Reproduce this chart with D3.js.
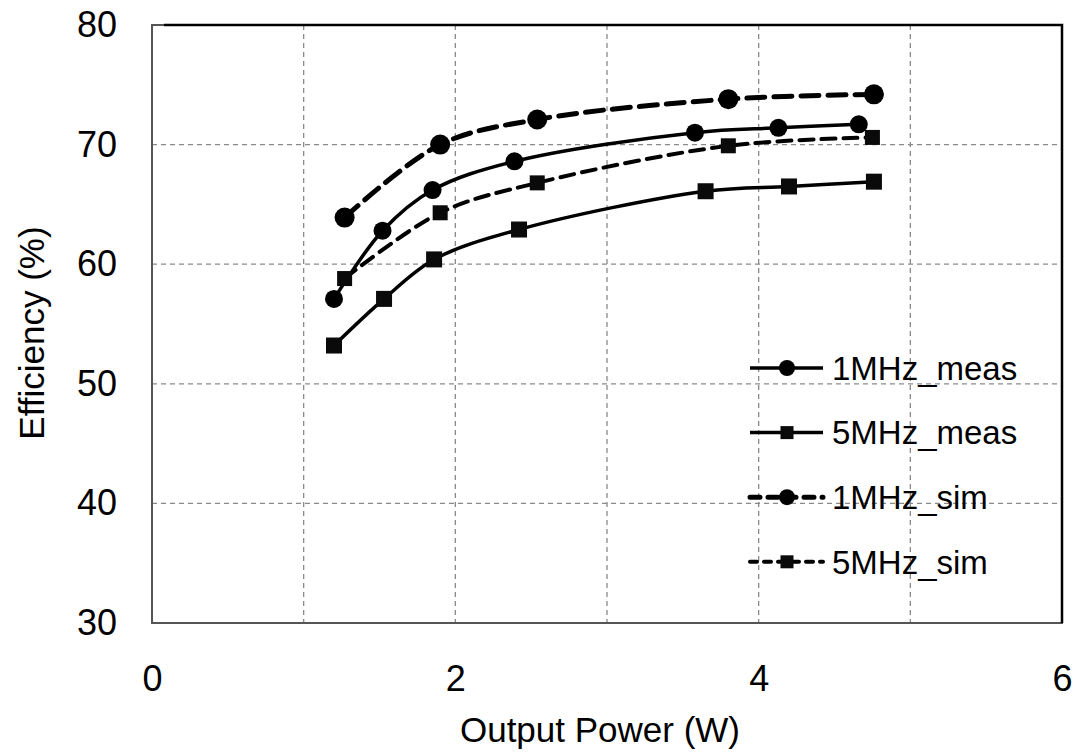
<!DOCTYPE html>
<html>
<head>
<meta charset="utf-8">
<script src="https://cdn.jsdelivr.net/npm/d3@7"></script>
<style>
  body { margin: 0; background: #fff; }
  text { font-family: "Liberation Sans", Arial, sans-serif; fill: #000; }
</style>
</head>
<body>
<div id="chart"></div>
<script>
// series
var meas1MHzX = [1.20, 1.52, 1.85, 2.39, 3.58, 4.13, 4.66];
var meas1MHzY = [57.1, 62.8, 66.2, 68.6, 71.0, 71.4, 71.7];
var meas5MHzX = [1.20, 1.53, 1.86, 2.42, 3.65, 4.20, 4.76];
var meas5MHzY = [53.2, 57.1, 60.4, 62.9, 66.1, 66.5, 66.9];
var sim1MHzX = [1.27, 1.90, 2.54, 3.80, 4.76];
var sim1MHzY = [63.9, 70.0, 72.1, 73.8, 74.2];
var sim5MHzX = [1.27, 1.90, 2.54, 3.80, 4.75];
var sim5MHzY = [58.8, 64.3, 66.8, 69.9, 70.6];

var seriesNames = ["1MHz_meas", "5MHz_meas", "1MHz_sim", "5MHz_sim"];
var xTicks = [0, 2, 4, 6];
var xGrid = [1, 2, 3, 4, 5];
var yTicks = [30, 40, 50, 60, 70, 80];

var width = 1081, height = 755;
var margin = { top: 25, right: 19, bottom: 132, left: 152 };
var w = width - margin.left - margin.right,
    h = height - margin.top - margin.bottom;

var series = [
    { name: seriesNames[0], x: meas1MHzX, y: meas1MHzY, marker: "circle", r: 9, sw: 3.5, dash: null },
    { name: seriesNames[1], x: meas5MHzX, y: meas5MHzY, marker: "square", r: 8, sw: 3.5, dash: null },
    { name: seriesNames[2], x: sim1MHzX, y: sim1MHzY, marker: "circle", r: 10, sw: 5, dash: "18,9" },
    { name: seriesNames[3], x: sim5MHzX, y: sim5MHzY, marker: "square", r: 7.5, sw: 4, dash: "14,8" }
];

var svg = d3.select("#chart").append("svg")
    .attr("width", width)
    .attr("height", height);

var g = svg.append("g")
    .attr("transform", "translate(" + margin.left + "," + margin.top + ")");

var xScale = d3.scaleLinear().domain([0, 6]).range([0, w]);
var yScale = d3.scaleLinear().domain([30, 80]).range([h, 0]);

// grid
g.selectAll(".vgrid")
    .data(xGrid)
    .enter()
    .append("line")
    .attr("x1", function (d) { return xScale(d); })
    .attr("x2", function (d) { return xScale(d); })
    .attr("y1", 0)
    .attr("y2", h)
    .attr("stroke", "#8a8a8a")
    .attr("stroke-width", 1.3)
    .attr("stroke-dasharray", "5,4");

g.selectAll(".hgrid")
    .data(yTicks.filter(function (d) { return d > 30 && d < 80; }))
    .enter()
    .append("line")
    .attr("x1", 0)
    .attr("x2", w)
    .attr("y1", function (d) { return yScale(d); })
    .attr("y2", function (d) { return yScale(d); })
    .attr("stroke", "#8a8a8a")
    .attr("stroke-width", 1.3)
    .attr("stroke-dasharray", "5,4");

// plot frame
g.append("rect")
    .attr("width", w)
    .attr("height", h)
    .attr("fill", "none")
    .attr("stroke", "#555")
    .attr("stroke-width", 2);
g.append("path")
    .attr("d", "M12,0H" + w + "V" + h)
    .attr("fill", "none")
    .attr("stroke", "#000")
    .attr("stroke-width", 2.5);

// axes (labels only)
var xAxis = d3.axisBottom(xScale).tickValues(xTicks).tickFormat(d3.format("d"))
    .tickSize(0).tickPadding(42);
g.append("g")
    .attr("transform", "translate(0," + h + ")")
    .call(xAxis)
    .call(function (s) { s.select(".domain").remove(); })
    .selectAll("text")
    .style("font-size", "36px")
    .style("font-family", "Liberation Sans, Arial, sans-serif")
    .attr("fill", "#000");

var yAxis = d3.axisLeft(yScale).tickValues(yTicks).tickFormat(d3.format("d"))
    .tickSize(0).tickPadding(35);
g.append("g")
    .call(yAxis)
    .call(function (s) { s.select(".domain").remove(); })
    .selectAll("text")
    .style("font-size", "36px")
    .style("font-family", "Liberation Sans, Arial, sans-serif")
    .attr("fill", "#000");

// axis titles
svg.append("text")
    .attr("x", 600)
    .attr("y", 742)
    .attr("text-anchor", "middle")
    .style("font-size", "35px")
    .text("Output Power (W)");

svg.append("text")
    .attr("transform", "translate(44,333) rotate(-90)")
    .attr("text-anchor", "middle")
    .style("font-size", "35px")
    .text("Efficiency (%)");

// lines
var line = d3.line()
    .x(function (d) { return xScale(d[0]); })
    .y(function (d) { return yScale(d[1]); })
    .curve(d3.curveCatmullRom.alpha(0.5));

series.forEach(function (s) {
    var pts = s.x.map(function (v, i) { return [v, s.y[i]]; });
    g.append("path")
        .datum(pts)
        .attr("d", line)
        .attr("fill", "none")
        .attr("stroke", "#000")
        .attr("stroke-width", s.sw)
        .attr("stroke-dasharray", s.dash)
        .attr("stroke-linecap", s.dash ? "round" : "butt");
    drawMarkers(g, pts.map(function (p) { return [xScale(p[0]), yScale(p[1])]; }), s);
});

function drawMarkers(parent, xy, s) {
    if (s.marker === "circle") {
        parent.selectAll(null)
            .data(xy)
            .enter()
            .append("circle")
            .attr("cx", function (d) { return d[0]; })
            .attr("cy", function (d) { return d[1]; })
            .attr("r", s.r)
            .attr("fill", "#000");
    } else {
        parent.selectAll(null)
            .data(xy)
            .enter()
            .append("rect")
            .attr("x", function (d) { return d[0] - s.r; })
            .attr("y", function (d) { return d[1] - s.r; })
            .attr("width", s.r * 2)
            .attr("height", s.r * 2)
            .attr("fill", "#0a0a0a");
    }
}

// legend
var legend = svg.append("g").attr("transform", "translate(750,368)");
series.forEach(function (s, i) {
    var row = legend.append("g").attr("transform", "translate(0," + (i * 64.6) + ")");
    row.append("line")
        .attr("x1", 0).attr("x2", 73)
        .attr("y1", 0).attr("y2", 0)
        .attr("stroke", "#000")
        .attr("stroke-width", s.sw)
        .attr("stroke-dasharray", s.dash ? (i === 2 ? "10,8" : "7,7") : null)
        .attr("stroke-linecap", s.dash ? "round" : "butt");
    drawMarkers(row, [[37, 0]], { marker: s.marker, r: s.marker === "circle" ? 8 : 6.5 });
    row.append("text")
        .attr("x", 82)
        .attr("y", 0)
        .attr("dy", "0.36em")
        .style("font-size", "33px")
        .text(s.name);
});
</script>
</body>
</html>
